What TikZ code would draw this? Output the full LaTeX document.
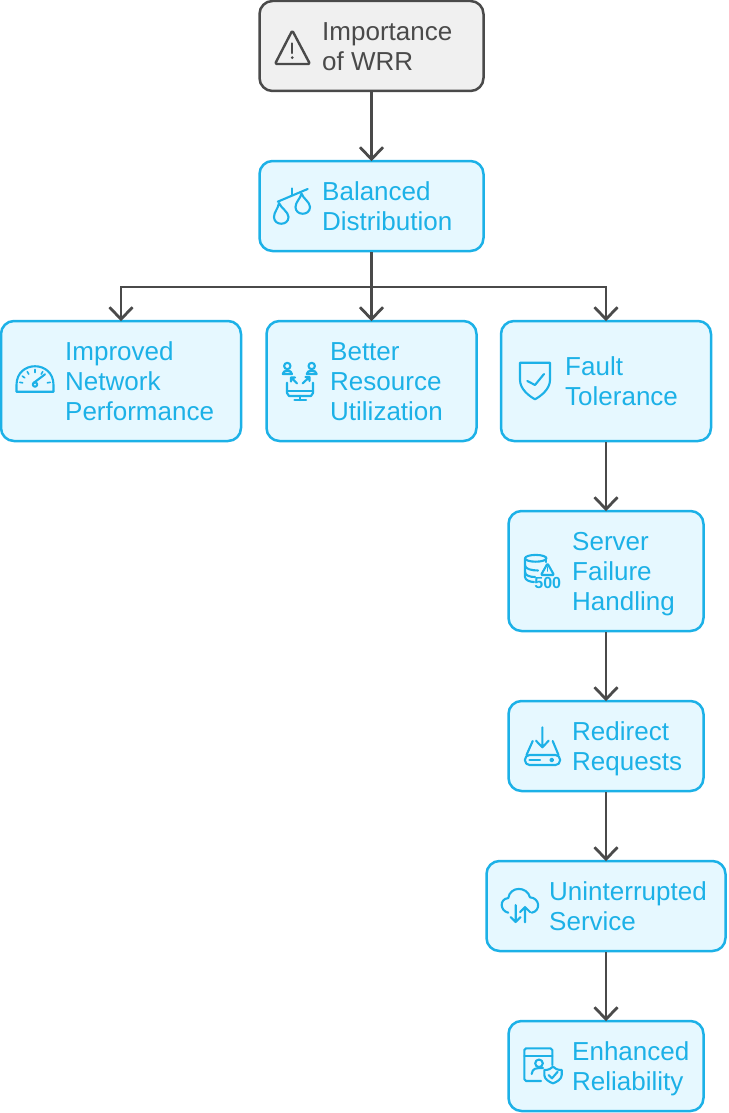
\documentclass[tikz,border=0pt]{standalone}
\usepackage{fontspec}
\setmainfont{Liberation Sans}
\usetikzlibrary{arrows.meta}
\definecolor{skyline}{HTML}{1CB1E7}
\definecolor{skyfill}{HTML}{E6F8FF}
\definecolor{slateline}{HTML}{4A4A4A}
\definecolor{slatefill}{HTML}{F0F0F0}
\tikzset{
  boxsky/.style={draw=skyline, fill=skyfill, line width=2.5pt, rounded corners=13pt, minimum height=#1},
  boxsky/.default=90pt,
  boxroot/.style={draw=slateline, fill=slatefill, line width=2.5pt, rounded corners=13pt, minimum height=90pt},
  caption/.style={anchor=base west, align=left, inner sep=0pt, text=skyline, font=\fontsize{26}{30}\selectfont},
  icon/.style={draw=skyline, line width=2.1pt, line cap=round, line join=round},
  link/.style={draw=slateline, line width=2.8pt, shorten >=-1.5pt, -{Straight Barb[length=12pt,width=23pt,line width=2.8pt]}}
}
\begin{document}
\begin{tikzpicture}[x=1pt, y=-1pt]
    \useasboundingbox (0,0) rectangle (728,1113);
    % boxes
    \node[boxroot, minimum width=224pt] (imp) at (371.5,46) {};
    \node[boxsky, minimum width=224pt] (bal) at (371.5,206) {};
    \node[boxsky=120pt, minimum width=240pt] (net) at (121,381) {};
    \node[boxsky=120pt, minimum width=210pt] (res) at (371.5,381) {};
    \node[boxsky=120pt, minimum width=210pt] (tol) at (606,381) {};
    \node[boxsky=120pt, minimum width=195pt] (srv) at (606,571) {};
    \node[boxsky, minimum width=195pt] (red) at (606,746) {};
    \node[boxsky, minimum width=239pt] (uni) at (606,906) {};
    \node[boxsky, minimum width=195pt] (rel) at (606,1066) {};
    % captions
    \node[caption, text=slateline] (impt) at (322,70.5) {Importance\\of WRR};
    \node[caption] (balt) at (322,230.5) {Balanced\\Distribution};
    \node[caption] (nett) at (65,420.5) {Improved\\Network\\Performance};
    \node[caption] (rest) at (330,420.5) {Better\\Resource\\Utilization};
    \node[caption] (tolt) at (565,405.5) {Fault\\Tolerance};
    \node[caption] (srvt) at (572,610.5) {Server\\Failure\\Handling};
    \node[caption] (redt) at (572,770.5) {Redirect\\Requests};
    \node[caption] (unit) at (549,930.5) {Uninterrupted\\Service};
    \node[caption] (relt) at (572,1090.5) {Enhanced\\Reliability};
    % connectors
    \coordinate (split) at (371.5,287);
    \draw[link] (imp) -- (bal);
    \draw[link] (bal) -- (res);
    \draw[link] (split) -| (net);
    \draw[link] (split) -| (tol);
    \draw[link] (tol) -- (srv);
    \draw[link] (srv) -- (red);
    \draw[link] (red) -- (uni);
    \draw[link] (uni) -- (rel);
    % warning icon
    \draw[icon, draw=slateline, line width=2.4pt, rounded corners=1.5pt] (292.3,30.5) -- (310,64) -- (275,64) -- cycle;
    \draw[icon, draw=slateline] (292.3,43.3) -- (292.3,53);
    \fill[slateline] (292.3,57.6) circle (1.5);
    % scales icon
    \draw[icon] (277.7,201.7) -- (307.7,189);
    \draw[icon] (292.3,188.3) -- (292.3,195);
    \draw[icon] (279,203) .. controls (278,209) and (274,212) .. (274,217) .. controls (274,226) and (288.5,226) .. (288.5,217) .. controls (288.5,212) and (281,208) .. (279,203);
    \draw[icon] (301.5,193.5) .. controls (300.5,198.5) and (295.5,202) .. (295.5,207) .. controls (295.5,216) and (310,216) .. (310,207) .. controls (310,202) and (303,198.5) .. (301.5,193.5);
    % gauge icon
    \draw[icon] (16.5,391.7) -- (53.5,391.7) -- (53.5,385) .. controls (53.5,360) and (16.5,360) .. (16.5,385) -- cycle;
    \draw[icon] (33.5,383) -- (45,374.3);
    \draw[icon] (35,384.5) circle (2.2);
    \foreach \ang in {-170,-145,-120,-90,-60,-10}
      \draw[icon, line width=1.6pt] ([shift={(\ang:12.5)}]35,385) -- ([shift={(\ang:15.5)}]35,385);
    % people and monitor icon
    \draw[icon] (287.3,366) circle (3.2);
    \draw[icon] (311.7,366) circle (3.2);
    \draw[icon] (282.7,374) .. controls (282.7,369.5) and (292,369.5) .. (292,374) -- cycle;
    \draw[icon] (306.7,374) .. controls (306.7,369.5) and (316.7,369.5) .. (316.7,374) -- cycle;
    \draw[icon] (297,383.3) -- (291,377.5) (291,381.5) -- (291,377.5) -- (295,377.5);
    \draw[icon] (302.7,383.3) -- (309.5,377) (309.5,381) -- (309.5,377) -- (305.5,377);
    \draw[icon] (287,382.7) -- (287,393) -- (289,396) -- (311,396) -- (313,393) -- (313,382.7);
    \draw[icon] (287,391) -- (313,391);
    \draw[icon] (300,396) -- (300,400) (294.5,400) -- (306,400);
    % shield icon
    \draw[icon] (520,362.7) -- (550,362.7) -- (550,380) .. controls (550,389) and (541,396) .. (535,399.3) .. controls (529,396) and (520,389) .. (520,380) -- cycle;
    \draw[icon] (527.3,381) -- (535,385) -- (544,374);
    % database icon
    \draw[icon] (535.7,558.3) ellipse (10.7 and 3.4);
    \draw[icon] (525,558.3) -- (525,577) .. controls (525,580) and (530,582) .. (534,582);
    \draw[icon] (525,565.5) .. controls (525,569) and (532,570.5) .. (538,570.5);
    \draw[icon] (525,572) .. controls (525,575.5) and (530,577) .. (535,577);
    \draw[icon] (546.4,558.3) -- (546.4,562);
    \draw[icon, rounded corners=1pt] (547.5,563.5) -- (554,575) -- (541,575) -- cycle;
    \draw[icon, line width=1.6pt] (547.5,567) -- (547.5,571);
    \node[inner sep=0pt, text=skyline, font=\fontsize{16}{16}\selectfont\bfseries] (code) at (547.7,583.3) {500};
    % drive icon
    \draw[icon] (542.3,727.3) -- (542.3,747.3) (536,740.7) -- (542.3,747.3) -- (548.7,740.7);
    \draw[icon, rounded corners=4.5pt] (525,755) rectangle (560,765);
    \draw[icon] (526.5,755) -- (532.7,741) (558.5,755) -- (552.7,741);
    \draw[icon] (529.5,760) -- (540,760);
    \draw[icon] (551.7,760) circle (1.4);
    % cloud icon
    \draw[icon] (508.3,912.7) .. controls (500,911) and (499,899) .. (508.3,898) .. controls (510,886) and (527,886) .. (530,897.3) .. controls (540,898) and (541,911) .. (531.7,912.7);
    \draw[icon] (515.7,905) -- (515.7,922) (510.5,917) -- (515.7,922) -- (520.5,917);
    \draw[icon] (525,922.3) -- (525,907) (520,912) -- (525,907) -- (530,912);
    % reliability icon
    \draw[icon] (541,1081) -- (526,1081) -- (524.3,1079) -- (524.3,1050) -- (526,1048.3) -- (550.5,1048.3) -- (552.3,1050) -- (552.3,1065);
    \draw[icon] (524.3,1055.7) -- (552.3,1055.7);
    \draw[icon] (539,1063.3) circle (3.8);
    \draw[icon] (531.7,1074) .. controls (532.5,1068) and (536,1068) .. (543,1068);
    \draw[icon] (544.3,1070) .. controls (549,1070) and (551,1068.5) .. (553,1066.7) .. controls (555,1068.5) and (557,1070) .. (561.7,1070) -- (561.7,1075) .. controls (561.7,1079) and (557,1082) .. (553,1083.3) .. controls (549,1082) and (544.3,1079) .. (544.3,1075) -- cycle;
    \draw[icon] (548.5,1075) -- (552,1078.3) -- (557.7,1071.7);
\end{tikzpicture}
\end{document}
